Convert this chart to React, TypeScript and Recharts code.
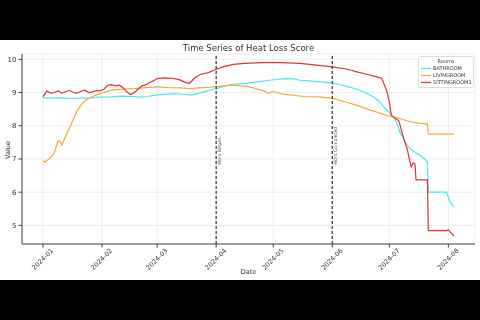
import React from 'react';
import { LineChart, Line, XAxis, YAxis, CartesianGrid, ReferenceLine } from 'recharts';

// days counted from 2024-01-01
const monthTicks = [0, 31, 60, 91, 121, 152, 182, 213];
const monthLabels = ['2024-01', '2024-02', '2024-03', '2024-04', '2024-05', '2024-06', '2024-07', '2024-08'];
const valueTicks = [5, 6, 7, 8, 9, 10];

const bathroomDays = [0, 5, 10, 15, 20, 25, 30, 36, 42, 48, 51, 55, 60, 66, 70, 75, 78, 82, 86, 90, 93, 96, 100, 104, 108, 114, 119, 124, 127, 132, 135, 140, 146, 152, 157, 162, 166, 170, 174, 177, 179, 182, 185, 188, 191, 193, 196, 198, 201, 202, 202.5, 212, 214, 216];
const bathroomValues = [8.84, 8.83, 8.84, 8.82, 8.83, 8.84, 8.86, 8.87, 8.89, 8.88, 8.86, 8.88, 8.93, 8.95, 8.97, 8.94, 8.92, 8.98, 9.04, 9.1, 9.15, 9.2, 9.25, 9.27, 9.29, 9.33, 9.37, 9.4, 9.42, 9.41, 9.37, 9.35, 9.32, 9.29, 9.22, 9.15, 9.07, 8.98, 8.86, 8.72, 8.57, 8.4, 8.2, 7.75, 7.45, 7.3, 7.18, 7.12, 6.97, 6.9, 6.0, 6.0, 5.7, 5.55];

const livingroomDays = [0, 1, 3, 5, 6, 8, 9, 10, 12, 14, 16, 18, 20, 22, 25, 28, 32, 36, 42, 48, 54, 60, 66, 72, 78, 82, 88, 95, 100, 108, 111, 116, 118, 121, 126, 131, 137, 145, 152, 160, 166, 172, 178, 181, 186, 193, 199, 202, 202.5, 216];
const livingroomValues = [6.95, 6.9, 7.0, 7.1, 7.2, 7.55, 7.52, 7.42, 7.7, 7.93, 8.2, 8.45, 8.62, 8.75, 8.85, 8.93, 9.0, 9.07, 9.1, 9.12, 9.15, 9.17, 9.15, 9.14, 9.12, 9.14, 9.16, 9.2, 9.22, 9.18, 9.13, 9.05, 8.98, 9.03, 8.95, 8.92, 8.88, 8.87, 8.83, 8.7, 8.6, 8.47, 8.36, 8.3, 8.24, 8.12, 8.07, 8.05, 7.75, 7.75];

const sittingroomDays = [0, 1, 2, 4, 6, 8, 10, 12, 14, 16, 18, 20, 22, 24, 26, 28, 30, 32, 34, 36, 38, 40, 42, 44, 46, 48, 50, 52, 54, 56, 58, 60, 64, 68, 72, 75, 77, 80, 83, 87, 91, 95, 100, 106, 115, 125, 135, 140, 145, 152, 160, 165, 170, 175, 178, 180.5, 182, 183, 185, 187, 189, 191.5, 192.5, 193.5, 194.5, 195.5, 196, 202, 202.5, 212, 213, 214, 216];
const sittingroomValues = [8.88, 8.95, 9.05, 8.98, 9.0, 9.05, 8.98, 9.03, 9.06, 9.0, 8.98, 9.04, 9.07, 9.0, 9.02, 9.06, 9.05, 9.1, 9.22, 9.24, 9.2, 9.22, 9.15, 9.02, 8.94, 9.0, 9.1, 9.2, 9.23, 9.3, 9.35, 9.42, 9.44, 9.43, 9.38, 9.3, 9.28, 9.45, 9.55, 9.6, 9.7, 9.78, 9.85, 9.88, 9.9, 9.9, 9.88, 9.85, 9.82, 9.77, 9.7, 9.62, 9.55, 9.48, 9.43, 9.07, 8.72, 8.32, 8.23, 8.15, 7.72, 7.27, 7.0, 6.76, 6.88, 6.85, 6.37, 6.37, 4.84, 4.84, 4.87, 4.8, 4.68];

const roomNames = ['BATHROOM', 'LIVINGROOM', 'SITTINGROOM1'];
const eventDays = [91, 152];
const eventLabels = ['Work Began', 'Work Completed'];

const ROOM_COLORS = ['#4be6f2', '#f5a93a', '#e03232'];

const toPoints = (days: number[], values: number[]) => days.map((d, i) => ({ day: d, value: values[i] }));

const series = [
  toPoints(bathroomDays, bathroomValues),
  toPoints(livingroomDays, livingroomValues),
  toPoints(sittingroomDays, sittingroomValues),
];

const FONT = 'DejaVu Sans, sans-serif';

const MonthTick = (props: any) => {
  const { x, y, payload } = props;
  const idx = monthTicks.indexOf(payload.value);
  const ty = y + 10;
  return (
    <text
      x={x}
      y={ty}
      textAnchor="middle"
      dominantBaseline="middle"
      fontSize={6.5}
      fill="#333"
      transform={`rotate(-45 ${x} ${ty})`}
    >
      {monthLabels[idx]}
    </text>
  );
};

const EventLabel = (props: any) => {
  const { viewBox, text } = props;
  if (!viewBox) return null;
  const x = viewBox.x + 5;
  const y = viewBox.y + 111;
  return (
    <text x={x} y={y} fontSize={4.6} fill="#555" transform={`rotate(-90 ${x} ${y})`}>
      {text}
    </text>
  );
};

// legend drawn as an overlay so it does not take space from the plot
const RoomsLegend = () => (
  <svg width={56} height={32} style={{ position: 'absolute', left: 418, top: 16, fontFamily: FONT }}>
    <rect x={0.5} y={0.5} width={55} height={31} rx={2} fill="#fff" fillOpacity={0.85} stroke="#ddd" />
    <text x={28} y={7} textAnchor="middle" fontSize={5} fill="#333">Rooms</text>
    {roomNames.map((name, i) => (
      <g key={name}>
        <line x1={3} x2={13} y1={12.5 + i * 7} y2={12.5 + i * 7} stroke={ROOM_COLORS[i]} strokeWidth={1.2} />
        <text x={15} y={14.3 + i * 7} fontSize={5} fill="#333">{name}</text>
      </g>
    ))}
  </svg>
);

export default function App() {
  return (
    <div style={{ position: 'fixed', left: 0, top: 0, width: 480, height: 320, background: '#000' }}>
      <div style={{ position: 'absolute', left: 0, top: 40, width: 480, height: 240, background: '#fff', fontFamily: FONT }}>
        <div style={{ position: 'absolute', left: 0, width: 497, top: 3, textAlign: 'center', fontSize: 8.5, color: '#333' }}>
          Time Series of Heat Loss Score
        </div>
        <div style={{ position: 'absolute', left: 8, top: 110, fontSize: 6.5, color: '#333', transform: 'translate(-50%, -50%) rotate(-90deg)' }}>
          Value
        </div>
        <div style={{ position: 'absolute', left: 0, width: 497, top: 228, textAlign: 'center', fontSize: 6.5, color: '#333' }}>
          Date
        </div>
        <LineChart width={480} height={240} margin={{ top: 14, right: 5, left: 0, bottom: 0 }} style={{ fontFamily: FONT }}>
          <CartesianGrid stroke="#e8e8e8" strokeWidth={0.8} />
          <XAxis
            type="number"
            dataKey="day"
            domain={[-11, 227]}
            ticks={monthTicks}
            allowDataOverflow
            height={36}
            tickSize={3.5}
            stroke="#444"
            tick={<MonthTick />}
            interval={0}
          />
          <YAxis
            type="number"
            dataKey="value"
            domain={[4.44, 10.16]}
            ticks={valueTicks}
            allowDataOverflow
            width={22}
            tickSize={3.5}
            stroke="#444"
            tick={{ fontSize: 7, fill: '#333' }}
            interval={0}
          />
          {series.map((data, i) => (
            <Line
              key={roomNames[i]}
              data={data}
              dataKey="value"
              name={roomNames[i]}
              type="linear"
              stroke={ROOM_COLORS[i]}
              strokeWidth={1.2}
              dot={false}
              isAnimationActive={false}
            />
          ))}
          {eventDays.map((d, i) => (
            <ReferenceLine
              key={eventLabels[i]}
              x={d}
              stroke="#222"
              strokeWidth={1.1}
              strokeDasharray="3 2"
              label={(p: any) => <EventLabel {...p} text={eventLabels[i]} />}
            />
          ))}
        </LineChart>
        <RoomsLegend />
      </div>
    </div>
  );
}
